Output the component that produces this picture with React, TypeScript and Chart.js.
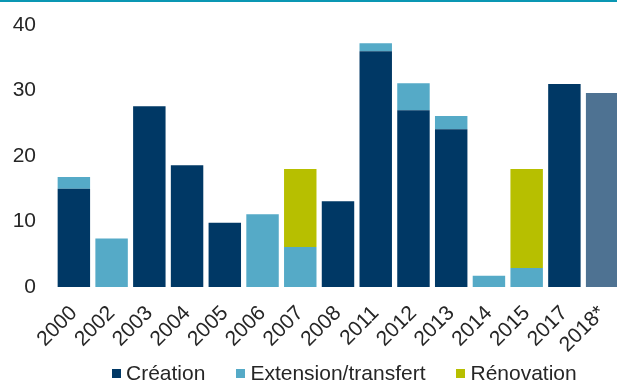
import React, { useEffect, useRef } from 'react';
import { Chart, registerables } from 'chart.js';

Chart.register(...registerables);

const categories = ['2000', '2002', '2003', '2004', '2005', '2006', '2007', '2008', '2011', '2012', '2013', '2014', '2015', '2017', '2018*'];
const creation = [15, 0, 27.6, 18.6, 9.8, 0, 0, 13.1, 36, 27, 24.1, 0, 0, 31, 29.6];
const extension = [1.8, 7.4, 0, 0, 0, 11.1, 6.1, 0, 1.2, 4.1, 2, 1.7, 2.9, 0, 0];
const renovation = [0, 0, 0, 0, 0, 0, 11.9, 0, 0, 0, 0, 0, 15.1, 0, 0];
const yTicks = [0, 10, 20, 30, 40];
const seriesNames = ['Création', 'Extension/transfert', 'Rénovation'];

const NAVY = '#003865';
const LIGHT = '#55AAC7';
const OLIVE = '#B7BF00';
const ESTIMATE = '#4E7292';
const TEXT = '#262626';
const FONT = "'Liberation Sans', Arial, sans-serif";

export default function App() {
  const ref = useRef<HTMLCanvasElement | null>(null);

  useEffect(() => {
    document.body.style.margin = '0';
    const canvas = ref.current;
    if (!canvas) return;
    const creationColors = categories.map((c) => (c.endsWith('*') ? ESTIMATE : NAVY));
    const chart = new Chart(canvas, {
      type: 'bar',
      data: {
        labels: categories,
        datasets: [
          { label: seriesNames[0], data: creation, backgroundColor: creationColors, borderWidth: 0 },
          { label: seriesNames[1], data: extension, backgroundColor: LIGHT, borderWidth: 0 },
          { label: seriesNames[2], data: renovation, backgroundColor: OLIVE, borderWidth: 0 },
        ],
      },
      options: {
        responsive: false,
        animation: false,
        devicePixelRatio: 1,
        layout: { padding: { top: 25, left: 0, right: 0, bottom: 0 } },
        datasets: { bar: { barPercentage: 0.86, categoryPercentage: 1 } },
        plugins: { legend: { display: false }, tooltip: { enabled: false } },
        scales: {
          x: {
            stacked: true,
            grid: { display: false, drawTicks: false },
            border: { display: false },
            ticks: {
              autoSkip: false,
              maxRotation: 45,
              minRotation: 45,
              padding: 14,
              color: TEXT,
              font: { family: FONT, size: 21 },
            },
            afterFit: (s: any) => {
              s.height = 94;
              s.paddingLeft = 0;
              s.paddingRight = 0;
            },
          },
          y: {
            stacked: true,
            min: 0,
            max: 40,
            grid: { display: false, drawTicks: false },
            border: { display: false },
            ticks: { stepSize: 10, padding: 19, color: TEXT, font: { family: FONT, size: 21 } },
            afterBuildTicks: (s: any) => { s.ticks = yTicks.map((v) => ({ value: v })); },
            afterFit: (s: any) => {
              s.width = 55;
              s.paddingTop = 0;
              s.paddingBottom = 0;
            },
          },
        },
      },
    });
    return () => chart.destroy();
  }, []);

  const legendItems = [
    { name: seriesNames[0], color: NAVY },
    { name: seriesNames[1], color: LIGHT },
    { name: seriesNames[2], color: OLIVE },
  ];

  return (
    <div style={{ position: 'relative', width: 617, height: 381, overflow: 'hidden', background: '#fff' }}>
      <canvas ref={ref} width={621} height={381} style={{ position: 'absolute', left: 0, top: 0, width: 621, height: 381 }} />
      <div style={{ position: 'absolute', left: 0, top: 0, width: 617, height: 2, background: '#0A97B3' }} />
      <div
        style={{
          position: 'absolute',
          left: 112,
          top: 363,
          display: 'flex',
          alignItems: 'center',
          gap: 31,
          fontFamily: FONT,
          fontSize: 21,
          lineHeight: '20px',
          color: TEXT,
          whiteSpace: 'nowrap',
        }}
      >
        {legendItems.map((it) => (
          <div key={it.name} style={{ display: 'flex', alignItems: 'center' }}>
            <span style={{ display: 'inline-block', width: 9, height: 9, background: it.color, marginRight: 5 }} />
            <span>{it.name}</span>
          </div>
        ))}
      </div>
    </div>
  );
}
